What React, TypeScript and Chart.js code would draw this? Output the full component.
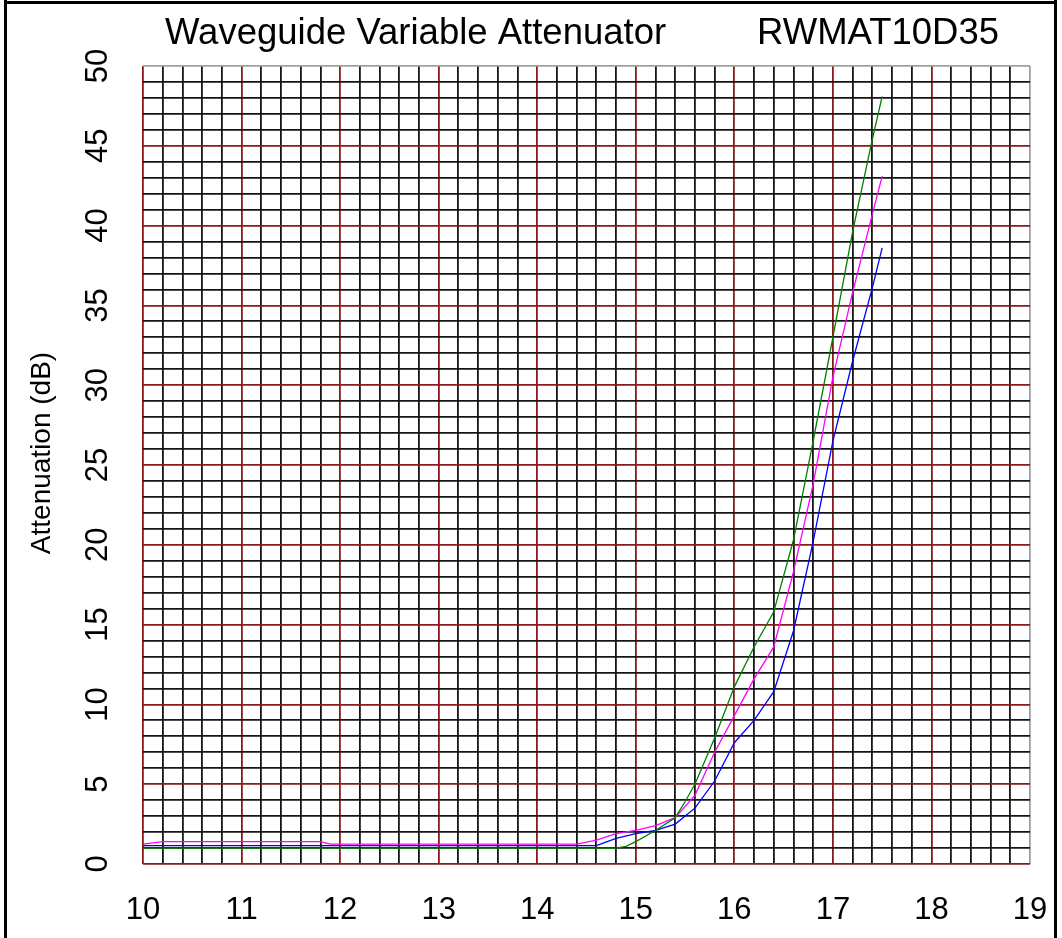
import { useEffect, useRef } from "react";
import { Chart, registerables } from "chart.js";

Chart.register(...registerables);

const TITLE_LEFT = "Waveguide Variable Attenuator";
const TITLE_RIGHT = "RWMAT10D35";
const Y_TITLE = "Attenuation (dB)";

const xTickLabels = [10, 11, 12, 13, 14, 15, 16, 17, 18, 19];
const yTickLabels = [0, 5, 10, 15, 20, 25, 30, 35, 40, 45, 50];

const greenFreq = [10, 14.8, 14.9, 15.0, 15.2, 15.4, 15.5, 15.6, 15.8, 16.0, 16.2, 16.4, 16.6, 16.8, 17.0, 17.2, 17.4, 17.5];
const greenAtten = [1.0, 1.0, 1.1, 1.4, 2.1, 2.9, 3.9, 5.0, 7.9, 11.1, 13.6, 15.8, 20.3, 26.5, 33.0, 39.6, 45.4, 48.1];

const magentaFreq = [10, 10.2, 11.8, 11.9, 14.4, 14.6, 14.8, 15.0, 15.2, 15.4, 15.6, 15.8, 16.0, 16.2, 16.4, 16.6, 16.8, 17.0, 17.2, 17.4, 17.5];
const magentaAtten = [1.25, 1.4, 1.4, 1.25, 1.25, 1.5, 1.9, 2.1, 2.4, 2.9, 4.3, 7.0, 9.3, 11.6, 13.6, 18.3, 23.8, 30.5, 35.8, 40.7, 43.1];

const blueFreq = [10, 14.6, 14.8, 15.0, 15.2, 15.4, 15.6, 15.8, 16.0, 16.2, 16.4, 16.6, 16.8, 17.0, 17.2, 17.4, 17.5];
const blueAtten = [1.15, 1.15, 1.6, 1.9, 2.1, 2.5, 3.5, 5.2, 7.6, 9.0, 10.8, 14.6, 20.2, 26.5, 31.5, 36.1, 38.6];

const FONT = "'Liberation Sans', Arial, sans-serif";

const pts = (xs: number[], ys: number[]) => xs.map((x, i) => ({ x, y: ys[i] }));
const isInt = (v: number) => Math.abs(v - Math.round(v)) < 1e-6;

const decorPlugin = {
  id: "decor",
  afterDraw(chart: any) {
    const ctx = chart.ctx as CanvasRenderingContext2D;
    const xs = chart.scales.x;
    const ys = chart.scales.y;
    ctx.save();
    ctx.fillStyle = "#000";
    // title
    ctx.font = `36.5px ${FONT}`;
    ctx.textAlign = "left";
    ctx.textBaseline = "alphabetic";
    ctx.fillText(TITLE_LEFT, 165, 44);
    ctx.fillText(TITLE_RIGHT, 757, 44);
    // x tick labels
    ctx.font = `31px ${FONT}`;
    ctx.textAlign = "center";
    for (const v of xTickLabels) {
      ctx.fillText(String(v), xs.getPixelForValue(v), 919);
    }
    // y tick labels (rotated)
    for (const v of yTickLabels) {
      ctx.save();
      ctx.translate(107, ys.getPixelForValue(v));
      ctx.rotate(-Math.PI / 2);
      ctx.textAlign = "center";
      ctx.fillText(String(v), 0, 0);
      ctx.restore();
    }
    // y axis title
    ctx.save();
    ctx.font = `28px ${FONT}`;
    ctx.translate(50, 453);
    ctx.rotate(-Math.PI / 2);
    ctx.textAlign = "center";
    ctx.fillText(Y_TITLE, 0, 0);
    ctx.restore();
    // frame
    ctx.fillStyle = "#000";
    ctx.fillRect(4, 0, 3, 938);
    ctx.fillRect(4, 1, 1053, 3);
    ctx.fillRect(1054, 0, 3, 938);
    ctx.restore();
  },
};

export default function App() {
  const ref = useRef<HTMLCanvasElement>(null);
  useEffect(() => {
    if (!ref.current) return;
    const gridColor = (edgeVal: number, major: number) => (c: any) => {
      const v = c.tick ? c.tick.value : 0;
      if (Math.abs(v - edgeVal) < 1e-6) return "#a0a0a0";
      if (isInt(v / major)) return "#8b1a1a";
      return "#151515";
    };
    const chart = new Chart(ref.current, {
      type: "line",
      data: {
        datasets: [
          { data: pts(greenFreq, greenAtten), borderColor: "#008000", borderWidth: 1.3, pointRadius: 0, tension: 0, fill: false },
          { data: pts(magentaFreq, magentaAtten), borderColor: "#ff00ff", borderWidth: 1.3, pointRadius: 0, tension: 0, fill: false },
          { data: pts(blueFreq, blueAtten), borderColor: "#0000ff", borderWidth: 1.3, pointRadius: 0, tension: 0, fill: false },
        ],
      },
      options: {
        animation: false,
        responsive: false,
        layout: { padding: { left: 143, right: 32, top: 66, bottom: 74 } },
        plugins: { legend: { display: false }, tooltip: { enabled: false }, title: { display: false } },
        scales: {
          x: {
            type: "linear",
            min: 10,
            max: 19,
            ticks: { display: false, stepSize: 0.2 },
            grid: { drawTicks: false, lineWidth: 1.8, color: gridColor(19, 1) },
            border: { display: false },
          },
          y: {
            type: "linear",
            min: 0,
            max: 50,
            ticks: { display: false, stepSize: 1 },
            grid: { drawTicks: false, lineWidth: 1.8, color: gridColor(50, 5) },
            border: { display: false },
          },
        },
      },
      plugins: [decorPlugin],
    });
    return () => chart.destroy();
  }, []);
  return (
    <div style={{ position: "absolute", left: 0, top: 0, width: 1062, height: 938, background: "#fff" }}>
      <canvas ref={ref} width={1062} height={938} style={{ display: "block" }} />
    </div>
  );
}
